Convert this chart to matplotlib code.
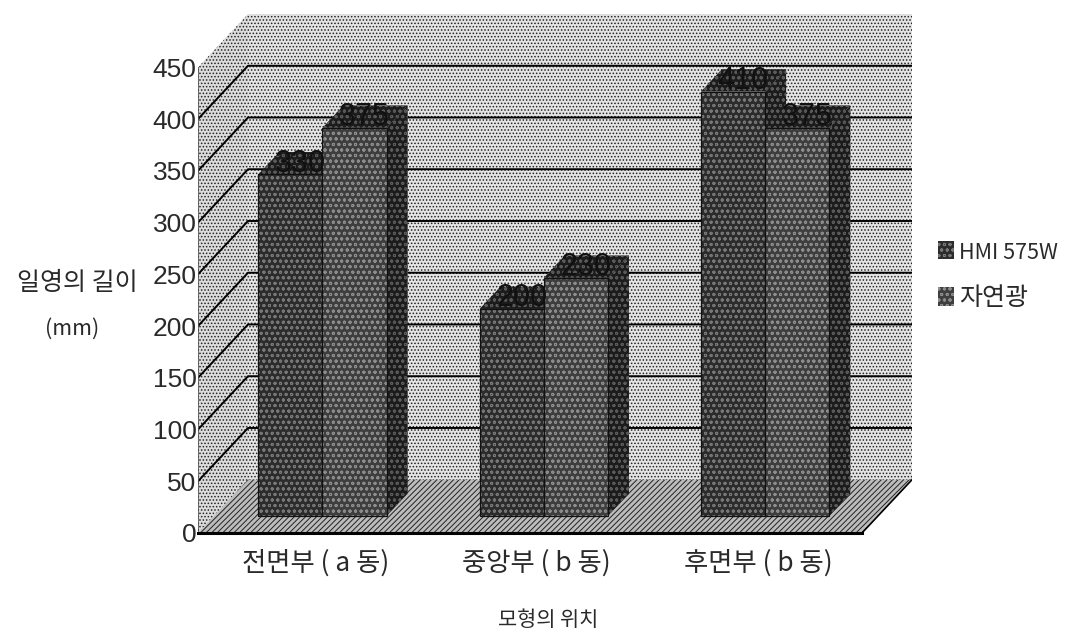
# -*- coding: utf-8 -*-
import matplotlib
matplotlib.use('Agg')
import matplotlib.pyplot as plt
from matplotlib.patches import Polygon, Patch

plt.rcParams['font.family'] = ['Noto Sans CJK KR', 'DejaVu Sans']
plt.rcParams['hatch.linewidth'] = 0.7

###############################################################################
# data
positions = ['전면부 ( a 동)', '중앙부 ( b 동)', '후면부 ( b 동)']
series_names = ['HMI 575W', '자연광']
hmi_values = [330, 200, 410]
daylight_values = [375, 230, 375]
y_ticks = [0, 50, 100, 150, 200, 250, 300, 350, 400, 450]

y_max = 450
n_cat = len(positions)

# depth of the oblique box, in axis units
depth_x = 0.226
depth_y = 51.5
# where the bars sit inside the box (0 = front, 1 = back)
bar_front = 0.32
bar_back = 0.74
bar_w = 0.29
group_c = 0.49

digit_font = ['Liberation Sans', 'DejaVu Sans']
text_color = '#2a2a2a'


def shift(x, y, d):
    return (x + depth_x * d, y + depth_y * d)


# filled polygon with a hatch, outline drawn on its own
def face(ax, pts, fc, hatch, hc, ec='black', lw=0.0, z=2):
    ax.add_patch(Polygon(pts, closed=True, facecolor=fc, edgecolor=hc,
                         hatch=hatch, linewidth=0, zorder=z))
    if lw > 0:
        ax.add_patch(Polygon(pts, closed=True, fill=False, edgecolor=ec,
                             linewidth=lw, zorder=z))


def draw_box(ax):
    left = [(0, 0), shift(0, 0, 1), shift(0, y_max, 1), (0, y_max)]
    back = [shift(0, 0, 1), shift(n_cat, 0, 1), shift(n_cat, y_max, 1), shift(0, y_max, 1)]
    floor = [(0, 0), (n_cat, 0), shift(n_cat, 0, 1), shift(0, 0, 1)]
    face(ax, back, '#e4e4e4', '.....', '#222222', z=1)
    face(ax, left, '#dcdcdc', '.....', '#222222', z=1)
    face(ax, floor, '#bcbcbc', '//////', '#222222', z=1)
    for v in y_ticks[1:-1]:
        x0, y0 = shift(0, v, 1)
        x1, y1 = shift(n_cat, v, 1)
        ax.plot([0, x0, x1], [v, y0, y1], color='black', lw=1.4, zorder=1.5)
    # right hand edge of the floor
    x1, y1 = shift(n_cat, 0, 1)
    ax.plot([n_cat, x1], [0, y1], color='black', lw=1.2, zorder=1.5)


def draw_bar(ax, x, v, fc, hc, side, side_h):
    a0 = shift(x, 0, bar_front)
    a1 = shift(x + bar_w, 0, bar_front)
    t0 = shift(x, v, bar_front)
    t1 = shift(x + bar_w, v, bar_front)
    b0 = shift(x, v, bar_back)
    b1 = shift(x + bar_w, v, bar_back)
    c1 = shift(x + bar_w, 0, bar_back)
    face(ax, [a1, c1, b1, t1], side, 'ooo', side_h, z=3)
    face(ax, [t0, t1, b1, b0], side, 'ooo', side_h, z=3)
    face(ax, [a0, a1, t1, t0], fc, 'ooo', hc, ec='#111111', lw=0.9, z=3)


fig = plt.figure(figsize=(10.69, 6.38), dpi=100)
ax = fig.add_axes([198 / 1069, 105 / 638, 714 / 1069, 519 / 638])
ax.set_xlim(0, n_cat + depth_x)
ax.set_ylim(0, y_max + depth_y)
ax.patch.set_visible(False)

draw_box(ax)

colors = [('#2c2c2c', '#777777', '#1c1c1c', '#5a5a5a'),
          ('#3e3e3e', '#8c8c8c', '#1c1c1c', '#5a5a5a')]
for i in range(n_cat):
    left = i + group_c - bar_w
    for j, vals in enumerate([hmi_values, daylight_values]):
        x = left + j * bar_w
        fc, hc, side, side_h = colors[j]
        draw_bar(ax, x, vals[i], fc, hc, side, side_h)
        lx, ly = shift(x + bar_w / 2, vals[i], 0.52)
        ax.text(lx, ly, str(vals[i]), ha='center', va='center', fontsize=22,
                family=digit_font, color='#111111', zorder=5)

# axes, ticks
for s in ['top', 'right']:
    ax.spines[s].set_visible(False)
ax.spines['bottom'].set_bounds(0, n_cat)
ax.spines['bottom'].set_linewidth(2.2)
ax.spines['left'].set_bounds(0, y_max)
ax.spines['left'].set_linewidth(0.6)
ax.spines['left'].set_color('#555555')
ax.set_yticks(y_ticks)
ax.set_yticklabels([str(v) for v in y_ticks], fontsize=19,
                   family=digit_font, color=text_color)
ax.set_xticks([i + 0.53 for i in range(n_cat)])
ax.set_xticklabels(positions, fontsize=19, color=text_color, fontweight='light')
ax.tick_params(axis='both', length=0, pad=1)
ax.tick_params(axis='x', pad=12)

fig.text(548 / 1069, 1 - 620 / 638, '모형의 위치', ha='center', va='center',
         fontsize=15, color=text_color, fontweight='light')
fig.text(77 / 1069, 1 - 283 / 638, '일영의 길이', ha='center', va='center',
         fontsize=18, color=text_color, fontweight='light')
fig.text(72 / 1069, 1 - 329 / 638, '(mm)', ha='center', va='center',
         fontsize=15.5, color=text_color, fontweight='light')

# legend
handles = [Patch(facecolor=colors[0][0], edgecolor=colors[0][1], hatch='ooo', linewidth=0),
           Patch(facecolor=colors[1][0], edgecolor=colors[1][1], hatch='ooo', linewidth=0)]
leg = fig.legend(handles, series_names, loc='center left',
                 bbox_to_anchor=(938 / 1069, 1 - 276 / 638), frameon=False,
                 fontsize=18, handlelength=0.65, handleheight=0.75,
                 handletextpad=0.2, labelspacing=0.85, borderpad=0, borderaxespad=0)
for t in leg.get_texts():
    t.set_color(text_color)
    t.set_fontweight('light')
leg.get_texts()[0].set_fontsize(15.5)

fig.savefig('out.png', dpi=100)
